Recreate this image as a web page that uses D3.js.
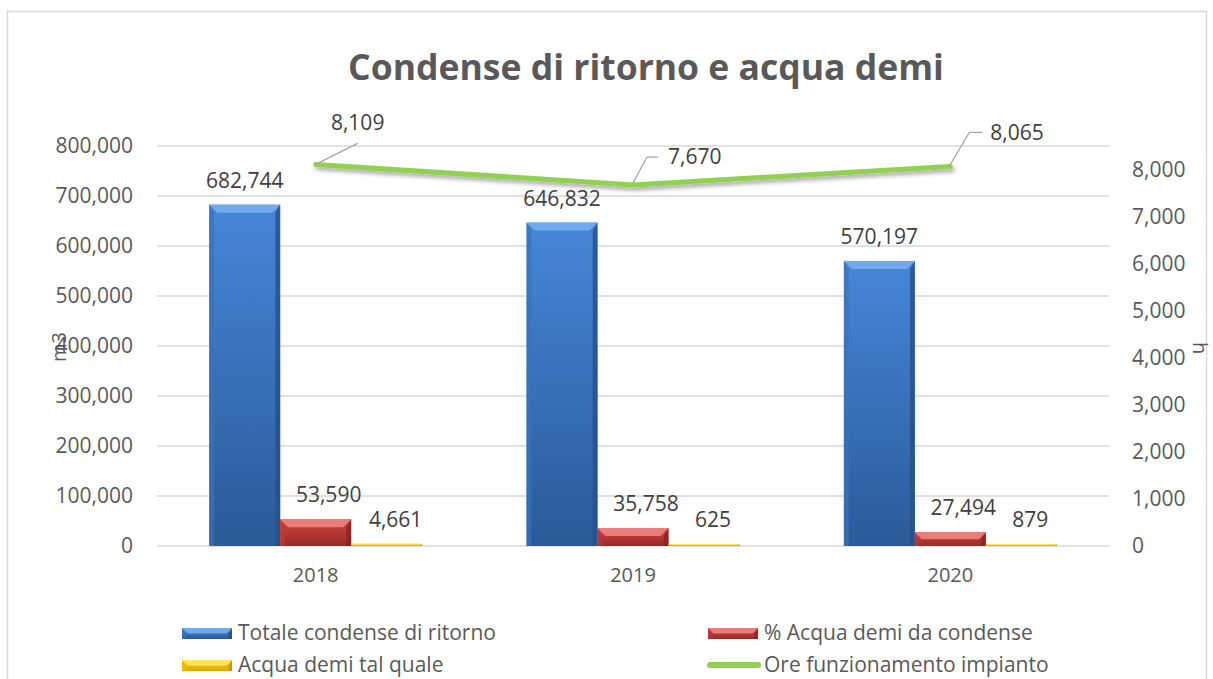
<!DOCTYPE html>
<html>
<head>
<meta charset="utf-8">
<script src="https://cdn.jsdelivr.net/npm/d3@7"></script>
<style>
  body { margin: 0; background: #fff; }
  svg { display: block; font-family: "Open Sans", sans-serif; }
</style>
</head>
<body>
<div id="chart"></div>
<script>
const years = ["2018", "2019", "2020"];
const totaleCondense = [682744, 646832, 570197];
const acquaDemiCondense = [53590, 35758, 27494];
const acquaDemiTalQuale = [4661, 625, 879];
const oreFunzionamento = [8109, 7670, 8065];
const leftTicks = [0, 100000, 200000, 300000, 400000, 500000, 600000, 700000, 800000];
const rightTicks = [0, 1000, 2000, 3000, 4000, 5000, 6000, 7000, 8000];

const barSeries = [
  { name: "Totale condense di ritorno", values: totaleCondense, dx: 0, c: ["#4687d8", "#2b5a98", "#77aeee", "#3a72bb", "#26508a"] },
  { name: "% Acqua demi da condense", values: acquaDemiCondense, dx: 13, c: ["#cf4543", "#982a28", "#ee8482", "#b83a38", "#88221f"] },
  { name: "Acqua demi tal quale", values: acquaDemiTalQuale, dx: 9, c: ["#ffd400", "#e0a800", "#ffe866", "#f0b800", "#c89000"] }
];
const lineName = "Ore funzionamento impianto";

const W = 1213, H = 679;
const fmt = d3.format(",");

const svg = d3.select("#chart").append("svg")
  .attr("width", W).attr("height", H);

// chart border
svg.append("rect")
  .attr("x", 7.5).attr("y", 11.5)
  .attr("width", 1199).attr("height", 700)
  .attr("fill", "#fff").attr("stroke", "#d9d9d9").attr("stroke-width", 1.5);

const defs = svg.append("defs");
barSeries.forEach((s, i) => {
  const g = defs.append("linearGradient").attr("id", "g" + i)
    .attr("x1", 0).attr("y1", 0).attr("x2", 0).attr("y2", 1);
  g.append("stop").attr("offset", "0%").attr("stop-color", s.c[0]);
  g.append("stop").attr("offset", "100%").attr("stop-color", s.c[1]);
});
const shadow = defs.append("filter").attr("id", "shadow")
  .attr("x", "-10%").attr("y", "-50%").attr("width", "120%").attr("height", "200%");
shadow.append("feDropShadow")
  .attr("dx", 2).attr("dy", 3).attr("stdDeviation", 2)
  .attr("flood-color", "#000").attr("flood-opacity", 0.35);

const x = d3.scaleBand().domain(years).range([157, 1109]).paddingInner(0.329).paddingOuter(0.1645);
const xs = d3.scaleBand().domain(d3.range(barSeries.length)).range([0, x.bandwidth()]);
const yL = d3.scaleLinear().domain([0, 800000]).range([546, 146]);
const yR = d3.scaleLinear().domain([0, 8500]).range([546, 146]);

// title
const title = svg.append("text")
  .attr("x", 646).attr("y", 80)
  .attr("text-anchor", "middle")
  .attr("font-weight", "bold").attr("font-size", 34)
  .attr("fill", "#595959")
  .text("Condense di ritorno e acqua demi");
const tw = title.node().getComputedTextLength();
title.attr("font-size", 34 * 596 / tw);

// gridlines
svg.append("g").selectAll("line").data(leftTicks).join("line")
  .attr("x1", 157).attr("x2", 1109)
  .attr("y1", d => yL(d)).attr("y2", d => yL(d))
  .attr("stroke", "#d9d9d9").attr("stroke-width", 1.5);

// left axis
const axL = svg.append("g").attr("transform", "translate(157,0)")
  .call(d3.axisLeft(yL).tickValues(leftTicks).tickFormat(fmt).tickSize(0).tickPadding(24));
axL.select(".domain").remove();
axL.selectAll("text").attr("font-size", 21).attr("fill", "#595959").attr("font-family", "Open Sans");

// right axis
const axR = svg.append("g").attr("transform", "translate(1109,0)")
  .call(d3.axisRight(yR).tickValues(rightTicks).tickFormat(fmt).tickSize(0).tickPadding(23));
axR.select(".domain").remove();
axR.selectAll("text").attr("font-size", 21).attr("fill", "#595959").attr("font-family", "Open Sans");

// x axis
const axX = svg.append("g").attr("transform", "translate(0,546)")
  .call(d3.axisBottom(x).tickSize(0).tickPadding(22));
axX.select(".domain").remove();
axX.selectAll("text").attr("font-size", 20).attr("fill", "#595959").attr("font-family", "Open Sans");

// axis titles
svg.append("text").attr("transform", "translate(66,347) rotate(-90)")
  .attr("text-anchor", "middle").attr("font-size", 20).attr("fill", "#595959").text("m3");
svg.append("text").attr("transform", "translate(1193,348) rotate(90)")
  .attr("text-anchor", "middle").attr("font-size", 20).attr("fill", "#595959").text("h");

// beveled bars
function bevelBar(g, bx, by, bw, bh, i) {
  const c = barSeries[i].c;
  const b = Math.min(8, bh / 2, bw / 2);
  g.append("rect").attr("x", bx).attr("y", by).attr("width", bw).attr("height", Math.max(bh, 0))
    .attr("fill", `url(#g${i})`);
  if (bh < 1) return;
  g.append("polygon")
    .attr("points", [[bx, by], [bx + bw, by], [bx + bw - b, by + b], [bx + b, by + b]].join(" "))
    .attr("fill", c[2]).attr("opacity", 0.9);
  g.append("polygon")
    .attr("points", [[bx, by], [bx + b * 0.6, by + b], [bx + b * 0.6, by + bh], [bx, by + bh]].join(" "))
    .attr("fill", c[3]).attr("opacity", 0.7);
  g.append("polygon")
    .attr("points", [[bx + bw, by], [bx + bw - b * 0.6, by + b], [bx + bw - b * 0.6, by + bh], [bx + bw, by + bh]].join(" "))
    .attr("fill", c[4]).attr("opacity", 0.8);
}

const bars = svg.append("g");
barSeries.forEach((s, i) => {
  s.values.forEach((v, j) => {
    const bx = x(years[j]) + xs(i);
    const top = Math.min(yL(v), 544);
    const g = bars.append("g");
    bevelBar(g, bx, top, xs.bandwidth(), 546 - top, i);
    svg.append("text")
      .attr("x", bx + xs.bandwidth() / 2 + s.dx).attr("y", top - 17)
      .attr("text-anchor", "middle").attr("font-size", 21).attr("fill", "#404040")
      .text(fmt(v));
  });
});

// line
const linePts = oreFunzionamento.map((v, j) => [x(years[j]) + x.bandwidth() / 2, yR(v)]);
svg.append("path")
  .attr("d", d3.line()(linePts))
  .attr("fill", "none").attr("stroke", "#92d050").attr("stroke-width", 5)
  .attr("stroke-linecap", "round").attr("stroke-linejoin", "round")
  .attr("filter", "url(#shadow)");

// line labels with leader lines
const leaders = [
  { pts: [[0, 0], [42, -21]], lx: 42, ly: -34, anchor: "middle" },
  { pts: [[0, -2], [14, -28], [25, -28]], lx: 35, ly: -21, anchor: "start" },
  { pts: [[0, -2], [19, -34], [32, -34]], lx: 40, ly: -26, anchor: "start" }
];
oreFunzionamento.forEach((v, j) => {
  const [px, py] = linePts[j];
  const L = leaders[j];
  svg.append("polyline")
    .attr("points", L.pts.map(p => [px + p[0], py + p[1]]).join(" "))
    .attr("fill", "none").attr("stroke", "#a6a6a6").attr("stroke-width", 1.3);
  svg.append("text")
    .attr("x", px + L.lx).attr("y", py + L.ly)
    .attr("text-anchor", L.anchor).attr("font-size", 21).attr("fill", "#404040")
    .text(fmt(v));
});

// legend
const legendItems = [
  { name: barSeries[0].name, type: 0, x: 182, y: 633 },
  { name: barSeries[1].name, type: 1, x: 708, y: 633 },
  { name: barSeries[2].name, type: 2, x: 182, y: 665 },
  { name: lineName, type: "line", x: 708, y: 665 }
];
legendItems.forEach(d => {
  const g = svg.append("g");
  if (d.type === "line") {
    g.append("line").attr("x1", d.x + 2).attr("x2", d.x + 50).attr("y1", d.y).attr("y2", d.y)
      .attr("stroke", "#92d050").attr("stroke-width", 6).attr("stroke-linecap", "round");
  } else {
    bevelBar(g, d.x, d.y - 5, 50, 11, d.type);
  }
  g.append("text").attr("x", d.x + 56).attr("y", d.y).attr("dy", "0.35em")
    .attr("font-size", 21).attr("fill", "#595959").text(d.name);
});
</script>
</body>
</html>
